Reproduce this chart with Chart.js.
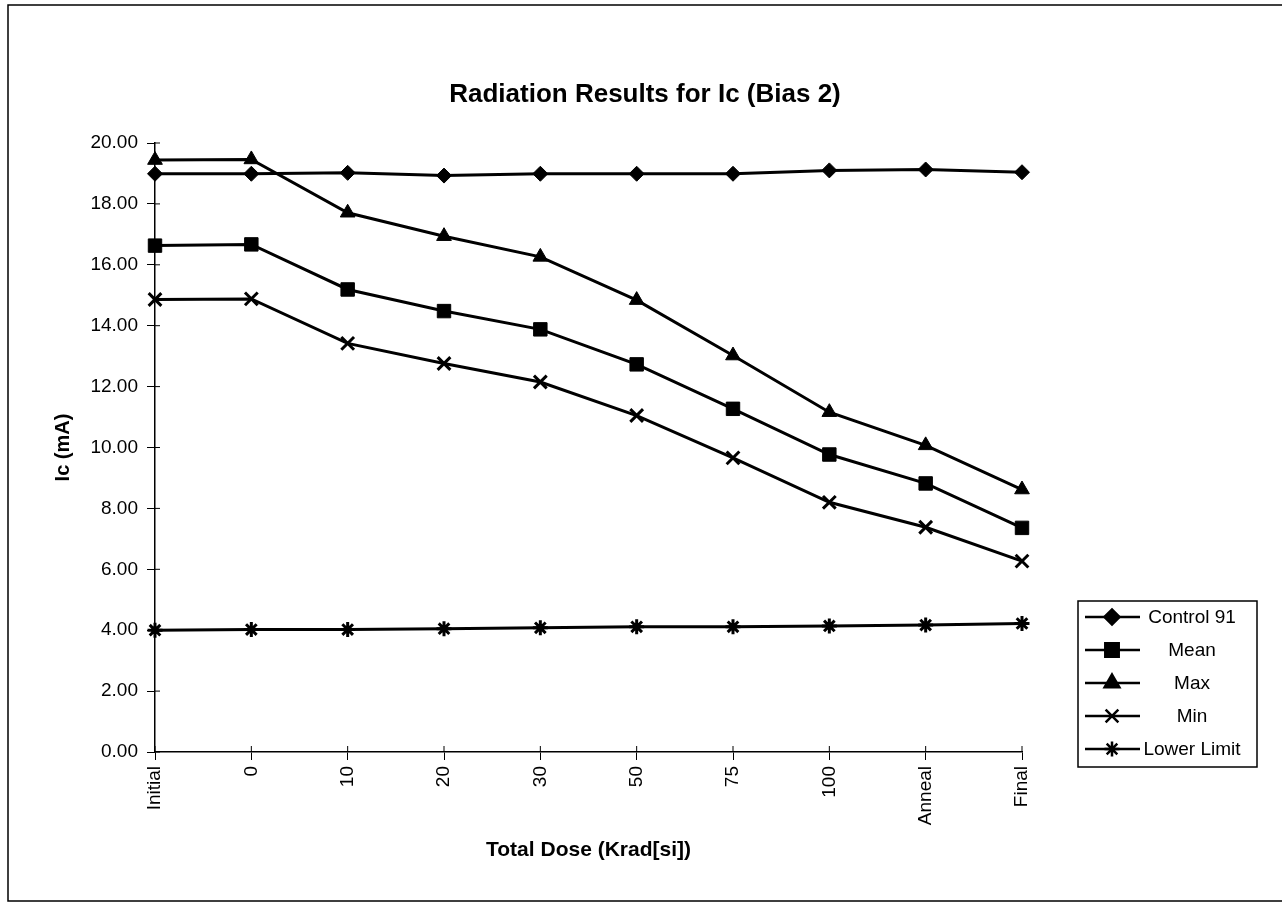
<!DOCTYPE html>
<html><head><meta charset="utf-8">
<script src="https://cdn.jsdelivr.net/npm/chart.js@4.4.0/dist/chart.umd.min.js"></script>
<style>html,body{margin:0;padding:0;background:#fff;} #wrap{position:relative;width:1282px;height:904px;}</style>
</head><body><div id="wrap"><canvas id="c" width="1282" height="904"></canvas></div>
<script>
const chartTitle = "Radiation Results for Ic (Bias 2)";
const xTitle = "Total Dose (Krad[si])";
const yTitle = "Ic (mA)";
const categories = ["Initial", "0", "10", "20", "30", "50", "75", "100", "Anneal", "Final"];
const control91 = [18.99, 18.99, 19.02, 18.93, 18.99, 18.99, 18.99, 19.10, 19.13, 19.04];
const meanVals  = [16.63, 16.67, 15.19, 14.48, 13.88, 12.73, 11.27, 9.77, 8.82, 7.36];
const maxVals   = [19.44, 19.46, 17.71, 16.94, 16.26, 14.84, 13.02, 11.16, 10.07, 8.62];
const minVals   = [14.86, 14.88, 13.42, 12.76, 12.15, 11.05, 9.66, 8.20, 7.38, 6.27];
const lowerLimit = [4.00, 4.02, 4.02, 4.05, 4.08, 4.11, 4.11, 4.14, 4.17, 4.22];
const seriesNames = ["Control 91", "Mean", "Max", "Min", "Lower Limit"];
const yMin = 0, yMax = 20, yStep = 2;

const FONT = "'Liberation Sans', Arial, sans-serif";

const styles = [
  {pointStyle: 'rectRot', radius: 7.5, bw: 1},
  {pointStyle: 'rect', radius: 9.5, bw: 1},
  {pointStyle: 'triangle', radius: 8.5, bw: 1},
  {pointStyle: 'crossRot', radius: 9, bw: 3},
  {pointStyle: 'star', radius: 7.5, bw: 3}
];
const seriesData = [control91, meanVals, maxVals, minVals, lowerLimit];

const datasets = seriesData.map((d, i) => ({
  label: seriesNames[i],
  data: d,
  borderColor: '#000',
  backgroundColor: '#000',
  borderWidth: 3,
  pointStyle: styles[i].pointStyle,
  pointRadius: styles[i].radius,
  pointBorderWidth: styles[i].bw,
  pointBackgroundColor: '#000',
  pointBorderColor: '#000',
  tension: 0,
  fill: false
}));

const extras = {
  id: 'extras',
  afterDraw(chart) {
    const ctx = chart.ctx;
    const ca = chart.chartArea;
    const xs = chart.scales.x, ys = chart.scales.y;
    ctx.save();
    // outer border
    ctx.strokeStyle = '#000';
    ctx.lineWidth = 1.5;
    ctx.beginPath();
    ctx.moveTo(1290, 5); ctx.lineTo(8, 5); ctx.lineTo(8, 901); ctx.lineTo(1290, 901);
    ctx.stroke();
    // inner tick marks (crossing the axes)
    ctx.lineWidth = 1;
    ctx.beginPath();
    ys.ticks.forEach((t, i) => {
      const y = ys.getPixelForTick(i);
      ctx.moveTo(ca.left, y); ctx.lineTo(ca.left + 5, y);
    });
    xs.ticks.forEach((t, i) => {
      const x = xs.getPixelForTick(i);
      ctx.moveTo(x, ca.bottom); ctx.lineTo(x, ca.bottom - 6);
    });
    ctx.stroke();
    // title
    ctx.fillStyle = '#000';
    ctx.font = "bold 26px " + FONT;
    ctx.textAlign = 'center';
    ctx.textBaseline = 'middle';
    ctx.fillText(chartTitle, 645, 95);
    // legend
    const bx = 1078, by = 601, bw = 179, bh = 166;
    ctx.lineWidth = 1.5;
    ctx.strokeRect(bx, by, bw, bh);
    chart.data.datasets.forEach((ds, i) => {
      const y = by + 16 + i * 33;
      ctx.lineWidth = 2.5;
      ctx.beginPath();
      ctx.moveTo(bx + 7, y); ctx.lineTo(bx + 62, y);
      ctx.stroke();
      ctx.fillStyle = '#000';
      Chart.helpers.drawPoint(ctx, {pointStyle: ds.pointStyle, radius: ds.pointRadius, borderWidth: ds.pointBorderWidth, rotation: 0}, bx + 34, y);
      ctx.font = "19px " + FONT;
      ctx.textAlign = 'center';
      ctx.textBaseline = 'middle';
      ctx.fillText(ds.label, bx + 114, y + 1);
    });
    ctx.restore();
  }
};

new Chart(document.getElementById('c'), {
  type: 'line',
  data: {labels: categories, datasets},
  options: {
    responsive: false,
    animation: false,
    devicePixelRatio: 1,
    layout: {padding: {left: 50, top: 143, right: 260, bottom: 0}},
    plugins: {legend: {display: false}, tooltip: {enabled: false}, title: {display: false}},
    scales: {
      x: {
        type: 'category',
        offset: false,
        grid: {display: true, drawOnChartArea: false, drawTicks: true, tickLength: 8, color: '#000', lineWidth: 1},
        border: {display: true, color: '#000', width: 1.5},
        ticks: {color: '#000', font: {family: FONT, size: 19}, maxRotation: 90, minRotation: 90, padding: 6, autoSkip: false},
        title: {display: true, text: xTitle, color: '#000', font: {family: FONT, size: 21, weight: 'bold'}, padding: {top: 4, bottom: 41}},
        afterFit(s) { s.height = 152; }
      },
      y: {
        min: yMin, max: yMax,
        grid: {display: true, drawOnChartArea: false, drawTicks: true, tickLength: 8, color: '#000', lineWidth: 1},
        border: {display: true, color: '#000', width: 1.5},
        ticks: {stepSize: yStep, color: '#000', font: {family: FONT, size: 19}, padding: 9, callback: v => Number(v).toFixed(2)},
        title: {display: true, text: yTitle, color: '#000', font: {family: FONT, size: 20, weight: 'bold'}, padding: {top: 1, bottom: 0}},
        afterFit(s) { s.width = 105; }
      }
    }
  },
  plugins: [extras]
});
</script>
</body></html>
